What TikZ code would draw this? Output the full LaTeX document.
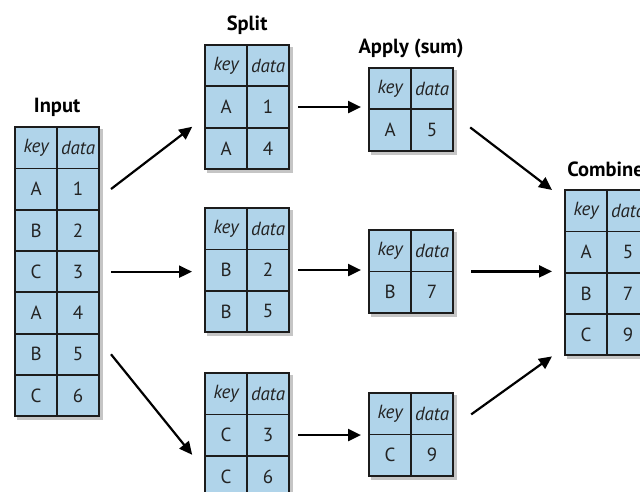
\documentclass[tikz,border=0pt]{standalone}
\usepackage{fontspec}
\setmainfont{PT Sans}
\usetikzlibrary{matrix,arrows.meta,shadows}
\definecolor{cellblue}{RGB}{176,212,234}
\definecolor{cellline}{RGB}{28,28,28}
\definecolor{celltext}{RGB}{35,35,35}
\tikzset{
  cell/.style={draw=cellline, line width=1.8pt, fill=cellblue, minimum width=42pt,
    minimum height=41.3pt, inner sep=0pt, anchor=center, text=celltext,
    font=\fontsize{19}{19}\selectfont},
  tbl/.style={matrix of nodes, nodes={cell}, inner sep=0pt,
    column sep=-1.8pt, row sep=-1.8pt, anchor=north west,
    row 1/.style={nodes={font=\fontsize{19}{19}\selectfont\itshape}},
    drop shadow={shadow xshift=2.5pt, shadow yshift=-3pt, fill=black!45, opacity=0.5}},
  lbl/.style={font=\fontsize{20.5}{20.5}\selectfont\bfseries, anchor=base, inner sep=0pt},
  arr/.style={line width=2.2pt, -{Triangle[length=13pt,width=12pt]}, black}
}
\begin{document}
\begin{tikzpicture}[x=1pt,y=-1pt]
\useasboundingbox (0,0) rectangle (640,492);
\matrix (in) [tbl] at (14,126) {key & data \\ A & 1 \\ B & 2 \\ C & 3 \\ A & 4 \\ B & 5 \\ C & 6 \\};
\matrix (s1) [tbl] at (204,44) {key & data \\ A & 1 \\ A & 4 \\};
\matrix (s2) [tbl] at (204,207) {key & data \\ B & 2 \\ B & 5 \\};
\matrix (s3) [tbl] at (204,372) {key & data \\ C & 3 \\ C & 6 \\};
\matrix (a1) [tbl] at (368,67) {key & data \\ A & 5 \\};
\matrix (a2) [tbl] at (368,229) {key & data \\ B & 7 \\};
\matrix (a3) [tbl] at (368,392) {key & data \\ C & 9 \\};
\matrix (c) [tbl] at (564,189) {key & data \\ A & 5 \\ B & 7 \\ C & 9 \\};
\node[lbl] (inl) at ([yshift=13pt]in.north) {Input};
\node[lbl] (sl) at ([yshift=13pt]s1.north) {Split};
\node[lbl] (al) at ([yshift=13pt]a1.north) {Apply (sum)};
\node[lbl] (cl) at ([xshift=4pt,yshift=13pt]c.north) {Combined};
% input -> split
\draw[arr] ([xshift=11pt]in-2-2.east) -- ([xshift=-12pt]s1-3-1.north west);
\draw[arr] ([xshift=11pt]in-4-2.east) -- ([xshift=-12pt]in-4-2.east -| s2.west);
\draw[arr] ([xshift=11pt]in-6-2.east) -- ([xshift=-12pt]s3-3-1.north west);
% split -> apply
\draw[arr] ([xshift=8pt]s1.east) -- ([xshift=-7pt]s1.east -| a1.west);
\draw[arr] ([xshift=8pt]s2.east) -- ([xshift=-7pt]s2.east -| a2.west);
\draw[arr] ([xshift=8pt]s3.east) -- ([xshift=-7pt]s3.east -| a3.west);
% apply -> combine
\draw[arr] ([shift={(16,18)}]a1.east) -- ([shift={(-12,1)}]c.north west);
\draw[arr] ([xshift=17pt]a2.east) -- ([xshift=-12pt]a2.east -| c.west);
\draw[arr] ([shift={(17,-20)}]a3.east) -- ([shift={(-12,0)}]c.south west);
\end{tikzpicture}
\end{document}
